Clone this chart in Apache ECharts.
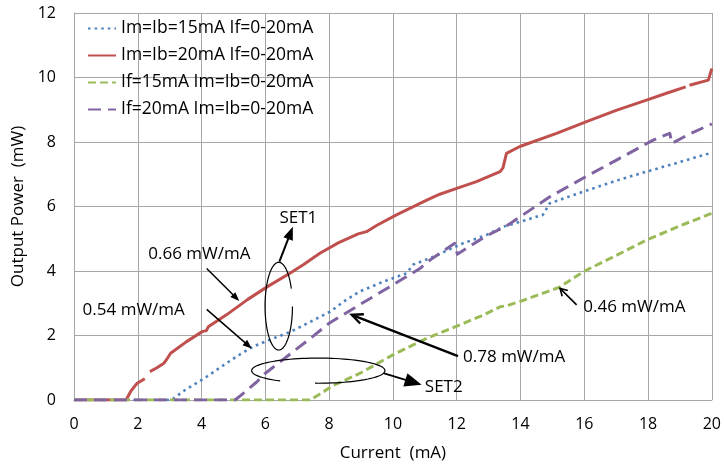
<!DOCTYPE html>
<html>
<head>
<meta charset="utf-8">
<script src="https://cdn.jsdelivr.net/npm/echarts@6/dist/echarts.min.js"></script>
<style>
  html, body { margin: 0; padding: 0; background: #fff; }
  #chart { width: 724px; height: 469px; }
</style>
</head>
<body>
<div id="chart"></div>
<script>
// Output power vs. drive current, [current mA, power mW]
const im15 = [[0,0],[3.05,0],[3.5,0.32],[4.08,0.67],[4.6,1.02],[5.1,1.35],[5.6,1.65],[6.04,1.83],[6.8,2.12],[7.4,2.42],[8.03,2.74],[8.5,3.08],[8.95,3.36],[9.7,3.67],[10.43,3.93],[10.64,4.2],[11.27,4.44],[11.68,4.63],[12.2,4.86],[12.94,5.12],[13.46,5.37],[14.1,5.56],[14.7,5.74],[14.92,6.1],[15.97,6.46],[17.0,6.8],[17.95,7.08],[19.0,7.38],[20,7.67]];
const im20 = [[0,0],[1.63,0],[1.8,0.3],[1.98,0.52],[2.22,0.66],[2.3,'-'],[2.38,0.88],[2.6,1.0],[2.82,1.14],[2.9,1.25],[3.03,1.45],[3.53,1.81],[4.02,2.12],[4.15,2.15],[4.21,2.27],[4.78,2.64],[5.45,3.12],[6.04,3.5],[6.77,3.93],[7.2,4.2],[7.71,4.55],[8.3,4.88],[8.91,5.15],[9.17,5.22],[9.5,5.42],[10.11,5.74],[11.06,6.2],[11.47,6.38],[12,6.56],[12.62,6.77],[13.36,7.08],[13.45,7.2],[13.56,7.65],[13.98,7.86],[15.13,8.27],[16.07,8.63],[17,8.98],[17.95,9.3],[18.6,9.52],[19.18,9.71],[19.24,'-'],[19.3,9.76],[19.89,9.92],[20,10.28]];
const if15 = [[0,0],[7.4,0],[7.7,0.18],[8.13,0.45],[8.97,0.83],[10,1.4],[11.06,1.91],[12.1,2.33],[12.8,2.62],[13.36,2.89],[13.6,2.93],[14,3.06],[15.23,3.5],[15.97,3.98],[17,4.48],[17.95,4.96],[19,5.4],[20,5.79]];
const if20 = [[0,0],[5.05,0],[5.3,0.2],[5.72,0.55],[6,0.83],[6.77,1.42],[7.5,1.98],[8,2.38],[9,2.98],[10,3.57],[10.85,4.08],[11.16,4.34],[11.94,4.86],[12.02,4.52],[12.88,5.06],[13.61,5.43],[14.92,6.3],[16,6.9],[17.01,7.44],[18.16,8.06],[18.68,8.27],[18.75,7.96],[19.3,8.25],[20,8.56]];

const seriesNames = ['Im=Ib=15mA If=0-20mA', 'Im=Ib=20mA If=0-20mA', 'If=15mA Im=Ib=0-20mA', 'If=20mA Im=Ib=0-20mA'];

// slope labels and arrows, anchored in data units
const slopeLabels = [
  { text: '0.66 mW/mA', at: [2.33, 4.52] },
  { text: '0.54 mW/mA', at: [0.27, 2.79] },
  { text: '0.78 mW/mA', at: [12.2, 1.34] },
  { text: '0.46 mW/mA', at: [15.97, 2.87] },
  { text: 'SET1', at: [6.44, 5.63] },
  { text: 'SET2', at: [11.0, 0.41] }
];

const FONT = 'Open Sans';
const GRID_COLOR = '#a6a6a6';

const chart = echarts.init(document.getElementById('chart'), null, { renderer: 'canvas' });

function lineSeries(name, data, color, width, type, cap) {
  return {
    name: name,
    type: 'line',
    data: data,
    showSymbol: false,
    symbol: 'none',
    connectNulls: false,
    animation: false,
    lineStyle: { color: color, width: width, type: type, cap: cap || 'butt', join: 'round' },
    itemStyle: { color: color }
  };
}

chart.setOption({
  animation: false,
  backgroundColor: '#fff',
  grid: { left: 74, right: 12, top: 13, bottom: 69, containLabel: false },
  legend: {
    orient: 'vertical',
    left: 87,
    top: 17,
    padding: 0,
    itemWidth: 28,
    itemHeight: 14,
    itemGap: 4,
    itemStyle: { opacity: 0 },
    textStyle: { fontFamily: FONT, fontSize: 17.5, color: '#000', lineHeight: 23 },
    data: seriesNames
  },
  xAxis: {
    type: 'value',
    min: 0, max: 20, interval: 2,
    name: 'Current  (mA)',
    nameLocation: 'middle',
    nameGap: 45,
    nameTextStyle: { fontFamily: FONT, fontSize: 17, color: '#000' },
    axisLine: { show: true, lineStyle: { color: GRID_COLOR, width: 1 } },
    axisTick: { show: false },
    axisLabel: { fontFamily: FONT, fontSize: 16, color: '#000', margin: 16 },
    splitLine: { show: true, lineStyle: { color: GRID_COLOR, width: 1 } }
  },
  yAxis: {
    type: 'value',
    min: 0, max: 12, interval: 2,
    name: 'Output Power  (mW)',
    nameLocation: 'middle',
    nameRotate: 90,
    nameGap: 40,
    nameTextStyle: { fontFamily: FONT, fontSize: 17, color: '#000' },
    axisLine: { show: true, lineStyle: { color: GRID_COLOR, width: 1 } },
    axisTick: { show: false },
    axisLabel: { fontFamily: FONT, fontSize: 16, color: '#000', margin: 18 },
    splitLine: { show: true, lineStyle: { color: GRID_COLOR, width: 1 } }
  },
  series: [
    lineSeries(seriesNames[0], im15, '#4f81bd', 2.6, [2.6, 4], 'butt'),
    lineSeries(seriesNames[1], im20, '#c0504d', 3, 'solid', 'butt'),
    lineSeries(seriesNames[2], if15, '#9bbb59', 3, [8, 4], 'butt'),
    lineSeries(seriesNames[3], if20, '#8064a2', 3, [13, 7], 'butt')
  ]
});

// ---- annotation layer (arrows, ellipses, labels) ----
function px(p) { return chart.convertToPixel({ gridIndex: 0 }, p); }

function arrow(from, to, o) {
  const a = px(from), b = px(to);
  const dx = b[0] - a[0], dy = b[1] - a[1];
  const len = Math.hypot(dx, dy);
  const ux = dx / len, uy = dy / len;
  const nx = -uy, ny = ux;
  const els = [];
  const bx = b[0] - ux * o.head, by = b[1] - uy * o.head;
  const end = o.filled ? [bx + ux * 1, by + uy * 1] : b;
  els.push({
    type: 'line', silent: true, z: 100,
    shape: { x1: a[0], y1: a[1], x2: end[0], y2: end[1] },
    style: { stroke: '#000', lineWidth: o.width, lineCap: 'butt' }
  });
  const l = [bx + nx * o.half, by + ny * o.half];
  const r = [bx - nx * o.half, by - ny * o.half];
  if (o.filled) {
    els.push({
      type: 'polygon', silent: true, z: 100,
      shape: { points: [b, l, r] },
      style: { fill: '#000' }
    });
  } else {
    els.push({
      type: 'polyline', silent: true, z: 100,
      shape: { points: [l, b, r] },
      style: { stroke: '#000', fill: null, lineWidth: o.width, lineJoin: 'miter' }
    });
  }
  return els;
}

// open ellipse outline, gap given as parameter range [t0, t1] (screen angle, y down)
function openEllipse(center, rx, ry, gap) {
  const c = px(center);
  const ex = px([center[0] + rx, center[1]])[0] - c[0];
  const ey = c[1] - px([center[0], center[1] + ry])[1];
  const pts = [];
  const start = gap[1], stop = gap[0] + Math.PI * 2;
  const n = 90;
  for (let i = 0; i <= n; i++) {
    const t = start + (stop - start) * i / n;
    pts.push([c[0] + ex * Math.cos(t), c[1] + ey * Math.sin(t)]);
  }
  return {
    type: 'polyline', silent: true, z: 100,
    shape: { points: pts },
    style: { stroke: '#000', fill: null, lineWidth: 1.2 }
  };
}

function label(item) {
  const p = px(item.at);
  return {
    type: 'text', silent: true, z: 101,
    x: p[0], y: p[1],
    style: {
      text: item.text, fill: '#000',
      font: '17px "' + FONT + '"',
      textAlign: 'left', textVerticalAlign: 'middle'
    }
  };
}

const g = [];
g.push(...arrow([4.16, 4.08], [5.18, 3.07], { width: 1.5, head: 9, half: 3.5, filled: true }));
g.push(...arrow([4.16, 2.81], [5.57, 1.60], { width: 1.5, head: 9, half: 3.5, filled: true }));
g.push(...arrow([12.04, 1.36], [8.71, 2.64], { width: 2.4, head: 11, half: 5, filled: false }));
g.push(...arrow([15.76, 2.95], [15.24, 3.46], { width: 1.6, head: 7, half: 4, filled: false }));
g.push(...arrow([6.44, 4.29], [6.86, 5.37], { width: 2, head: 13, half: 5, filled: true }));
g.push(...arrow([9.70, 0.83], [10.90, 0.47], { width: 1.8, head: 17, half: 7, filled: true }));
g.push(openEllipse([6.42, 2.91], 0.43, 1.36, [-0.41, 0.01]));
g.push(openEllipse([7.66, 0.91], 2.09, 0.39, [1.62, 2.18]));
slopeLabels.forEach(function (s) { g.push(label(s)); });

chart.setOption({ graphic: { elements: g } });
</script>
</body>
</html>
